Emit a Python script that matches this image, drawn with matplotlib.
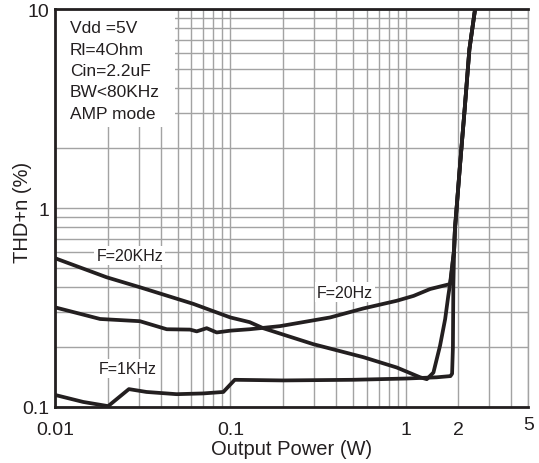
import numpy as np
import matplotlib
matplotlib.use('Agg')
import matplotlib.pyplot as plt
from matplotlib.patches import Rectangle

plt.rcParams['font.family'] = ['Liberation Sans', 'DejaVu Sans']

ink = '#231f20'

# curves (W, %)
tail_x = [1.91, 2.04, 2.17, 2.31, 2.49, 2.55]
tail_y = [0.784, 1.63, 3.14, 6.3, 10.05, 11.0]

f1k_x = [0.01, 0.0145, 0.0201, 0.0264, 0.0333, 0.0494, 0.07, 0.0912, 0.106,
         0.2, 0.5, 1.0, 1.5, 1.8, 1.84, 1.86, 1.87, 1.89]
f1k_y = [0.115, 0.106, 0.101, 0.123, 0.119, 0.116, 0.117, 0.119, 0.137,
         0.136, 0.137, 0.139, 0.141, 0.143, 0.147, 0.2, 0.4, 0.62]

f20k_x = [0.01, 0.0197, 0.0305, 0.0615, 0.1, 0.129, 0.154, 0.297, 0.574, 0.889,
          1.21, 1.32, 1.44, 1.57, 1.68, 1.75, 1.81, 1.89]
f20k_y = [0.56, 0.449, 0.40, 0.33, 0.282, 0.267, 0.249, 0.207, 0.178, 0.158,
          0.141, 0.138, 0.149, 0.203, 0.277, 0.362, 0.44, 0.62]

f20_x = [0.01, 0.0181, 0.0305, 0.0434, 0.0589, 0.0643, 0.0733, 0.0836, 0.1, 0.129,
         0.192, 0.371, 0.574, 0.889, 1.11, 1.38, 1.79, 1.89]
f20_y = [0.317, 0.277, 0.27, 0.246, 0.245, 0.24, 0.249, 0.237, 0.242, 0.246,
         0.255, 0.282, 0.313, 0.342, 0.362, 0.392, 0.415, 0.62]

x_ticks = [0.01, 0.1, 1, 2, 5]
x_labels = ['0.01', '0.1', '1', '2', '5']
y_ticks = [0.1, 1, 10]
y_labels = ['0.1', '1', '10']

conditions = ['Vdd =5V', 'Rl=4Ohm', 'Cin=2.2uF', 'BW<80KHz', 'AMP mode']

fig = plt.figure(figsize=(5.39, 4.64), dpi=100)
ax = fig.add_axes([0.102, 0.1207, 0.878, 0.8573])
ax.set_xscale('log')
ax.set_yscale('log')
ax.set_xlim(0.01, 5)
ax.set_ylim(0.1, 10)

# grid on every decade step
ax.grid(True, which='both', color='#a3a3a3', linewidth=1.0)
ax.set_axisbelow(True)

for xs, ys in [(f1k_x, f1k_y), (f20k_x, f20k_y), (f20_x, f20_y)]:
    ax.plot(xs + tail_x, ys + tail_y, color=ink, linewidth=2.7,
            solid_joinstyle='round', solid_capstyle='round', zorder=3)

ax.set_xticks(x_ticks)
ax.set_xticklabels(x_labels)
ax.set_yticks(y_ticks)
ax.set_yticklabels(y_labels)
ax.xaxis.set_minor_formatter(plt.NullFormatter())
ax.yaxis.set_minor_formatter(plt.NullFormatter())
ax.tick_params(which='both', length=0, labelsize=14, colors=ink)
ax.tick_params(axis='x', pad=10)
ax.tick_params(axis='y', pad=4)
for lbl in ax.get_xticklabels():
    if lbl.get_text() == '5':
        lbl.set_y(0.012)

ax.set_xlabel('Output Power (W)', fontsize=14.5, color=ink, labelpad=1)
ax.set_ylabel('THD+n (%)', fontsize=14.5, color=ink, va='center')
ax.yaxis.set_label_coords(-0.068, 0.492)

for side in ['left', 'bottom', 'top']:
    ax.spines[side].set_linewidth(2.0)
    ax.spines[side].set_color(ink)
ax.spines['right'].set_color('#a3a3a3')
ax.spines['right'].set_linewidth(1.0)

# white box with test conditions
ax.add_patch(Rectangle((0, 0.704), 0.254, 0.296, transform=ax.transAxes,
                       facecolor='white', edgecolor='none', zorder=2))
for i, line in enumerate(conditions):
    ax.text(0.032, 0.953 - i * 0.0535, line, transform=ax.transAxes,
            fontsize=12.5, color=ink, va='center', ha='left', zorder=4)

box = dict(facecolor='white', edgecolor='none', pad=1.5)
ax.text(0.158, 0.381, 'F=20KHz', transform=ax.transAxes, fontsize=11.5,
        color=ink, ha='center', va='center', bbox=box, zorder=4)
ax.text(0.154, 0.096, 'F=1KHz', transform=ax.transAxes, fontsize=11.5,
        color=ink, ha='center', va='center', bbox=box, zorder=4)
ax.text(0.613, 0.289, 'F=20Hz', transform=ax.transAxes, fontsize=11.5,
        color=ink, ha='center', va='center', bbox=box, zorder=4)

fig.savefig('out.png', dpi=100)
